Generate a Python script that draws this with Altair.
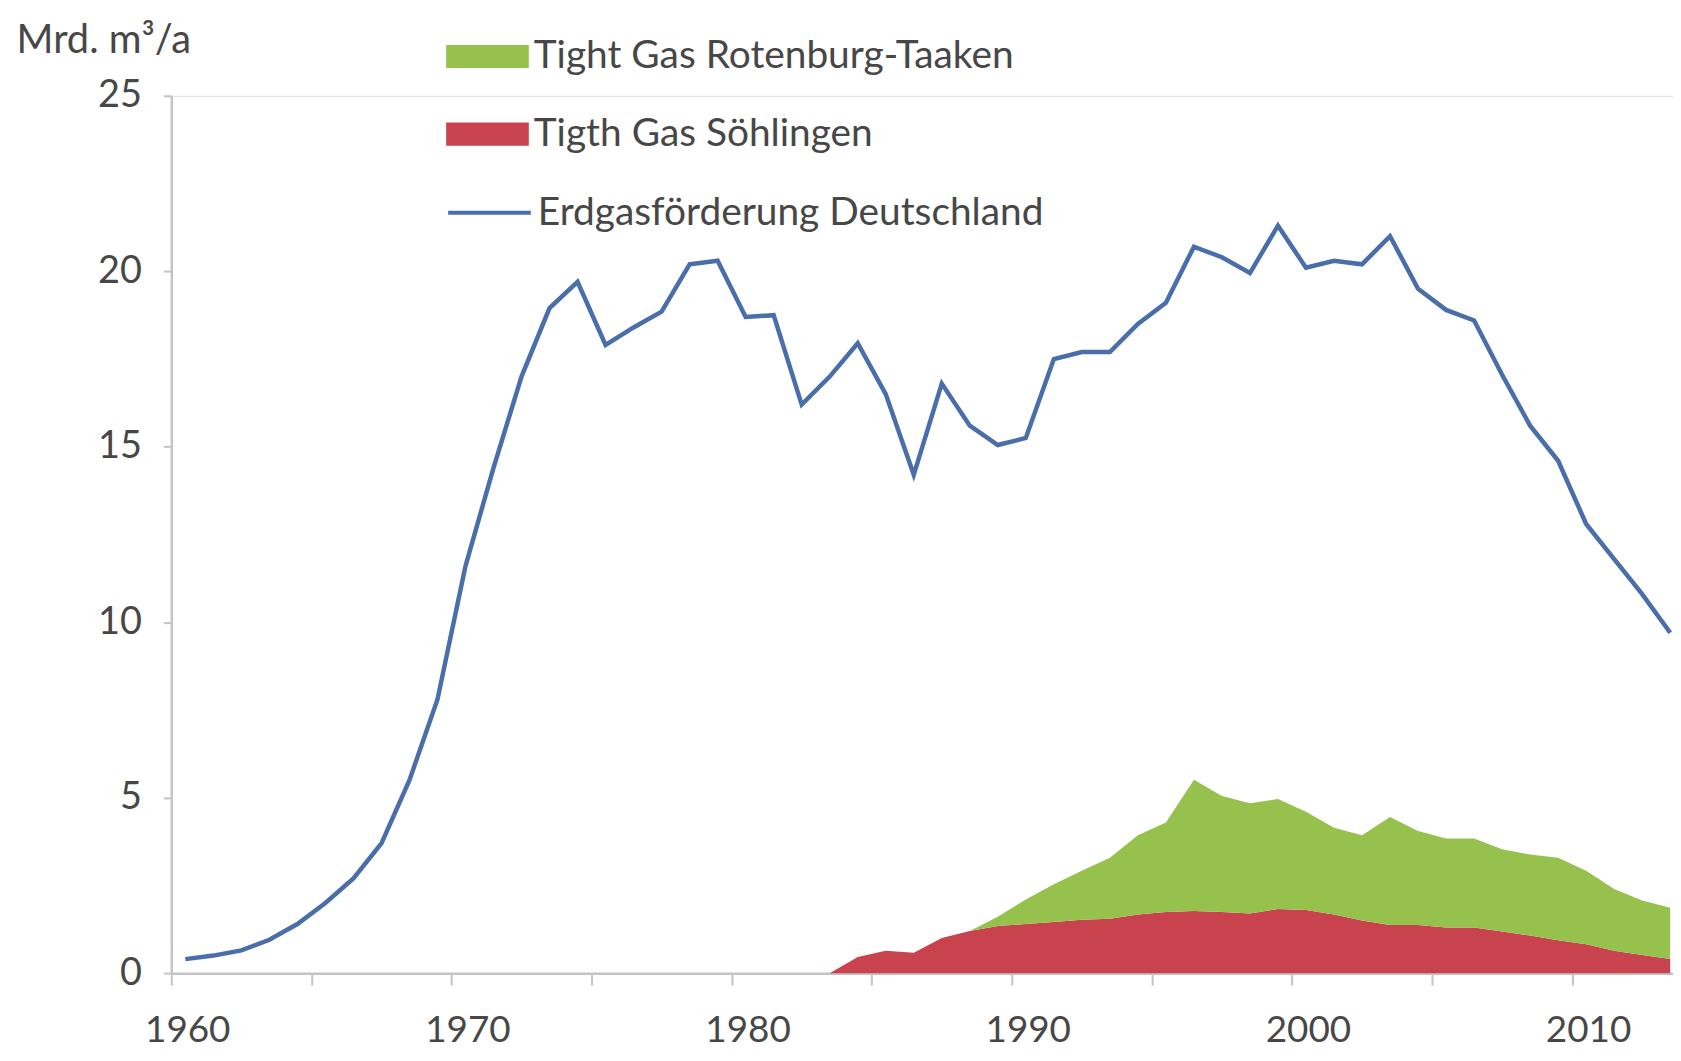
import altair as alt
import pandas as pd

# ---- data ----
years_line = list(range(1960, 2014))
production = [0.4, 0.5, 0.65, 0.95, 1.4, 2.0, 2.7, 3.7, 5.5, 7.8,
              11.6, 14.4, 17.0, 18.95, 19.7, 17.9, 18.4, 18.85, 20.2, 20.3,
              18.7, 18.75, 16.2, 17.0, 17.95, 16.5, 14.2, 16.8, 15.6, 15.05,
              15.25, 17.5, 17.7, 17.7, 18.5, 19.1, 20.7, 20.4, 19.95, 21.3,
              20.1, 20.3, 20.2, 21.0, 19.5, 18.9, 18.6, 17.05, 15.6, 14.6,
              12.8, 11.8, 10.8, 9.7]

years_tight = list(range(1983, 2014))
soehlingen = [0.0, 0.46, 0.64, 0.58, 1.0, 1.2, 1.34, 1.4, 1.46, 1.52,
              1.55, 1.67, 1.74, 1.77, 1.74, 1.7, 1.83, 1.8, 1.67, 1.5,
              1.37, 1.37, 1.3, 1.3, 1.19, 1.07, 0.94, 0.82, 0.64, 0.52, 0.4]
rotenburg = [0.0, 0.0, 0.0, 0.0, 0.0, 0.0, 0.27, 0.7, 1.07, 1.4,
             1.74, 2.26, 2.55, 3.74, 3.31, 3.14, 3.13, 2.8, 2.47, 2.43,
             3.08, 2.68, 2.54, 2.54, 2.34, 2.31, 2.35, 2.1, 1.76, 1.55, 1.46]

y_ticks = [0, 5, 10, 15, 20, 25]
x_tick_positions = [1959.5 + 5 * i for i in range(11)]

NAME_ROT = "Tight Gas Rotenburg-Taaken"
NAME_SOE = "Tigth Gas Söhlingen"
NAME_DE = "Erdgasförderung Deutschland"
Y_TITLE = "Mrd. m³/a"

GREEN = "#95c14c"
RED = "#c8434e"
BLUE = "#4a6ea9"
TEXT = "#474747"
AXIS = "#c4c4c4"
FONT = "Lato"
FS = 38

line_df = pd.DataFrame({"year": years_line, "value": production, "series": NAME_DE})
area_df = pd.concat([
    pd.DataFrame({"year": years_tight, "value": soehlingen, "series": NAME_SOE, "ord": 0}),
    pd.DataFrame({"year": years_tight, "value": rotenburg, "series": NAME_ROT, "ord": 1}),
], ignore_index=True)

x_scale = alt.Scale(domain=[1959.5, 2013.1], nice=False, zero=False)
y_scale = alt.Scale(domain=[0, 25], nice=False)

x_axis = alt.Axis(
    values=x_tick_positions,
    labelExpr="(datum.value + 0.5) % 10 == 0 ? format(datum.value + 0.5, 'd') : ''",
    labelOffset=16, labelFlush=False, labelOverlap=False,
    tickSize=12, tickColor=AXIS, tickWidth=2,
    domainColor=AXIS, domainWidth=2.5,
    labelPadding=28, labelFont=FONT, labelFontSize=37, labelColor=TEXT,
    grid=False, title=None,
)
y_axis = alt.Axis(
    values=y_ticks, labelFlush=False,
    tickSize=8, tickColor=AXIS, tickWidth=2,
    domainColor=AXIS, domainWidth=2.5,
    labelPadding=22, labelFont=FONT, labelFontSize=FS, labelColor=TEXT,
    grid=False,
    title=Y_TITLE, titleAngle=0, titleAlign="left", titleBaseline="middle",
    titleX=-156, titleY=-56, titleFont=FONT, titleFontSize=40,
    titleFontWeight="normal", titleColor=TEXT,
)

X = alt.X("year:Q", scale=x_scale, axis=x_axis)

area = alt.Chart(area_df).mark_area(interpolate="linear", opacity=1).encode(
    x=X,
    y=alt.Y("value:Q", stack="zero", scale=y_scale, axis=y_axis),
    fill=alt.Fill(
        "series:N",
        scale=alt.Scale(domain=[NAME_ROT, NAME_SOE], range=[GREEN, RED]),
        legend=alt.Legend(
            title=None, orient="none", legendX=276, legendY=-81,
            symbolType="M-1,-0.28H1V0.28H-1Z", symbolSize=6889,
            symbolStrokeWidth=0, symbolOpacity=1,
            labelFont=FONT, labelFontSize=39, labelColor=TEXT,
            labelOffset=5, labelLimit=1000, rowPadding=16, padding=0,
        ),
    ),
    order=alt.Order("ord:Q"),
)

line = alt.Chart(line_df).mark_line(strokeWidth=4.5, interpolate="linear").encode(
    x=X,
    y=alt.Y("value:Q", scale=y_scale, axis=y_axis),
    stroke=alt.Stroke(
        "series:N",
        scale=alt.Scale(domain=[NAME_DE], range=[BLUE]),
        legend=alt.Legend(
            title=None, orient="none", legendX=276, legendY=74,
            symbolType="stroke", symbolSize=6889, symbolStrokeWidth=4,
            labelFont=FONT, labelFontSize=39, labelColor=TEXT,
            labelOffset=5, labelLimit=1000, padding=0,
        ),
    ),
)

chart = alt.layer(area, line).resolve_scale(fill="independent", stroke="independent").properties(
    width=1508, height=881,
    padding={"left": 164, "top": 86, "right": 0, "bottom": 78},
    autosize=alt.AutoSizeParams(type="none"),
).configure_view(stroke=None).configure(font=FONT, background="white")

chart.save("out.html", embed_options={"renderer": "svg", "actions": False})
